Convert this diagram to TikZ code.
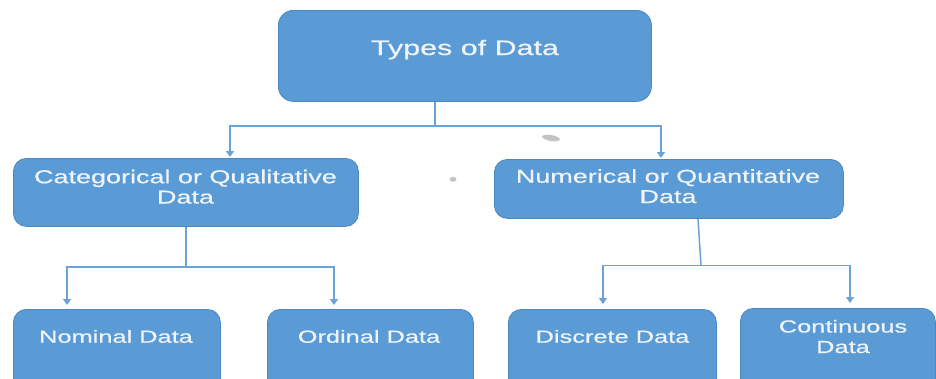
\documentclass[tikz,border=0pt]{standalone}
\usepackage{fontspec}
\setmainfont{Liberation Sans}[FakeStretch=1.45,FakeBold=0.6]
\usetikzlibrary{arrows.meta}
\definecolor{boxfill}{HTML}{5B9BD5}
\definecolor{boxline}{HTML}{4A88C4}
\definecolor{linkcol}{HTML}{6AA3D8}
\definecolor{txtcol}{HTML}{EFF4FA}
\definecolor{smudge}{HTML}{C4C4C4}
\tikzset{
  box/.style={draw=boxline, fill=boxfill, line width=0.8pt, rectangle, rounded corners=#1, inner sep=0pt, anchor=north west},
  box/.default=13pt,
  txt/.style={text=txtcol, inner sep=0pt, align=center, anchor=base},
  bigtxt/.style={txt, font=\fontsize{21}{23}\selectfont},
  midtxt/.style={txt, font=\fontsize{18.6}{20.3}\selectfont},
  lowtxt/.style={txt, font=\fontsize{17.5}{20.5}\selectfont},
  link/.style={draw=linkcol, line width=1.5pt},
  arr/.style={link, -{Triangle[width=8pt,length=6pt]}},
}
\begin{document}
\begin{tikzpicture}[x=1pt,y=-1pt]
\clip (0,0) rectangle (936,378);
\fill[white] (0,0) rectangle (936,378);
% boxes
\node[box=15pt, minimum width=373pt, minimum height=91pt] (top) at (278,10) {};
\node[box, minimum width=345pt, minimum height=68pt] (cat) at (13,158) {};
\node[box, minimum width=349pt, minimum height=59pt] (num) at (494,159) {};
\node[box, minimum width=207pt, minimum height=85pt] (nom) at (13,309) {};
\node[box, minimum width=206pt, minimum height=85pt] (ord) at (267,309) {};
\node[box, minimum width=208pt, minimum height=85pt] (dis) at (508,309) {};
\node[box, minimum width=195pt, minimum height=85pt] (con) at (740,308) {};
% texts
\node[bigtxt] (topT) at (465,55) {Types of Data};
\node[midtxt] (catT) at (185.5,203.5) {Categorical or Qualitative\\Data};
\node[midtxt] (numT) at (668,203) {Numerical or Quantitative\\Data};
\node[lowtxt] (nomT) at (116,342.7) {Nominal Data};
\node[lowtxt] (ordT) at (369,342.7) {Ordinal Data};
\node[lowtxt] (disT) at (612.5,342.7) {Discrete Data};
\node[lowtxt] (conT) at (843,353) {Continuous\\Data};
% junction coordinates
\coordinate (j1) at (435,126);
\coordinate (j2) at (186,267);
\coordinate (j3) at (701,265.5);
% connectors
\draw[link] (top.south -| j1) -- (j1);
\draw[arr] (j1) -| ([yshift=1pt]cat.north -| 230,0);
\draw[arr] (j1) -| ([yshift=1pt]num.north -| 661,0);
\draw[link] (cat.south -| j2) -- (j2);
\draw[arr] (j2) -| ([yshift=4pt]nom.north -| 67,0);
\draw[arr] (j2) -| ([yshift=4pt]ord.north -| 334,0);
\draw[link] (num.south -| 698,0) -- (j3);
\draw[arr] (j3) -| ([yshift=5pt]dis.north -| 603,0);
\draw[arr] (j3) -| ([yshift=5pt]con.north -| 850,0);
% small grey smudges
\fill[smudge, rotate around={-10:(551,138)}] (551,138) ellipse [x radius=9pt, y radius=3pt];
\fill[smudge] (453,179.3) ellipse [x radius=3.5pt, y radius=2.5pt];
\end{tikzpicture}
\end{document}
